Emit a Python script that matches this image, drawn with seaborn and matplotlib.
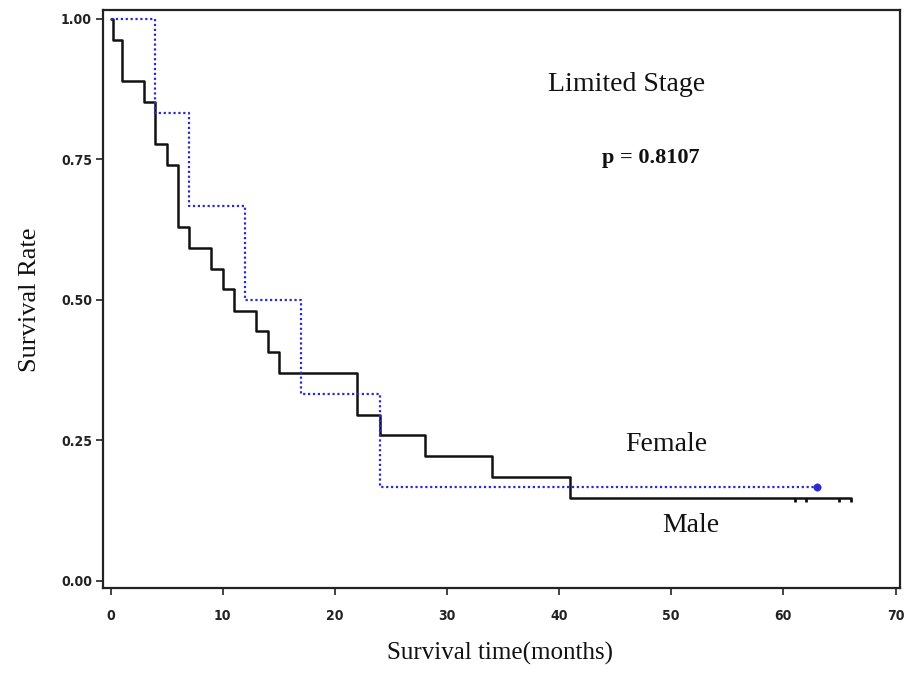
import matplotlib
matplotlib.use("Agg")
import matplotlib.pyplot as plt
import seaborn as sns
import pandas as pd
from matplotlib import font_manager
from matplotlib.markers import TICKDOWN

# ---- data ----
male_time = [0, 0.2, 1, 3, 4, 5, 6, 7, 9, 10, 11, 13, 14, 15, 22, 24, 28, 34, 41, 66]
male_surv = [1.0, 0.963, 0.889, 0.852, 0.778, 0.741, 0.630, 0.593, 0.556, 0.519,
             0.481, 0.444, 0.407, 0.370, 0.296, 0.259, 0.222, 0.185, 0.148, 0.148]
male_censor_time = [61, 62, 65, 66]
male_censor_surv = [0.148, 0.148, 0.148, 0.148]

female_time = [0, 4, 7, 12, 17, 24, 63]
female_surv = [1.0, 0.833, 0.667, 0.500, 0.333, 0.167, 0.167]
female_censor_time = [63]
female_censor_surv = [0.167]

x_ticks = [0, 10, 20, 30, 40, 50, 60, 70]
y_ticks = [0.0, 0.25, 0.50, 0.75, 1.00]
y_tick_labels = ["0.00", "0.25", "0.50", "0.75", "1.00"]

title_text = "Limited Stage"
p_text = "p = 0.8107"
x_label = "Survival time(months)"
y_label = "Survival Rate"

# ---- build frames ----
df = pd.concat([
    pd.DataFrame({"time": male_time, "surv": male_surv, "group": "Male"}),
    pd.DataFrame({"time": female_time, "surv": female_surv, "group": "Female"}),
], ignore_index=True)

sns.set_theme(style="white")
serif = ["Liberation Serif", "DejaVu Serif"]
plt.rcParams["font.family"] = serif

tick_font = font_manager.FontProperties(family="DejaVu Sans", stretch="condensed",
                                        weight="bold", size=10)

fig = plt.figure(figsize=(9.05, 6.73), dpi=100)
ax = fig.add_axes([103 / 905, 1 - 588 / 673, (900 - 103) / 905, (588 - 10) / 673])

male_df = df[df["group"] == "Male"]
female_df = df[df["group"] == "Female"]
sns.lineplot(data=male_df, x="time", y="surv", ax=ax, estimator=None, sort=False,
             drawstyle="steps-post", color="#111111", linewidth=1.8, legend=False)
sns.lineplot(data=female_df, x="time", y="surv", ax=ax, estimator=None, sort=False,
             drawstyle="steps-post", color="#2a2ad0", linewidth=1.6,
             linestyle=(0, (1.0, 1.2)), legend=False)

sns.scatterplot(x=male_censor_time, y=male_censor_surv, ax=ax, marker=TICKDOWN,
                s=9, color="#111111", linewidth=2.0, legend=False)
sns.scatterplot(x=female_censor_time, y=female_censor_surv, ax=ax, marker="o",
                s=28, color="#2a2ad0", edgecolor="#2a2ad0", legend=False)

ax.set_xlim(-0.67, 70.4)
ax.set_ylim(-0.0125, 1.016)
ax.set_xticks(x_ticks)
ax.set_xticklabels([str(v) for v in x_ticks], fontproperties=tick_font)
ax.set_yticks(y_ticks)
ax.set_yticklabels(y_tick_labels, fontproperties=tick_font)
ax.tick_params(axis="both", which="both", direction="out", length=5, width=1.2,
               color="#222222", labelcolor="#222222", bottom=True, left=True)
ax.tick_params(axis="x", pad=10)
ax.tick_params(axis="y", pad=3)
for sp in ax.spines.values():
    sp.set_color("#222222")
    sp.set_linewidth(1.6)

ax.set_xlabel(x_label, fontsize=18, family=serif, color="#111111")
ax.set_ylabel(y_label, fontsize=19, family=serif, color="#111111")
ax.xaxis.set_label_coords((500 - 103) / 797, (588 - 653) / 578)
ax.yaxis.set_label_coords((30 - 103) / 797, (588 - 300) / 578)
ax.xaxis.label.set_verticalalignment("center")
ax.yaxis.label.set_verticalalignment("center")

ax.text(46.0, 0.883, title_text, ha="center", va="center", fontsize=20, family=serif, color="#111111")
ax.text(48.2, 0.753, p_text, ha="center", va="center", fontsize=16, fontweight="bold", family=serif, color="#111111")
ax.text(49.6, 0.242, "Female", ha="center", va="center", fontsize=20, family=serif, color="#111111")
ax.text(51.7, 0.098, "Male", ha="center", va="center", fontsize=20, family=serif, color="#111111")

fig.savefig("out.png", dpi=100)
